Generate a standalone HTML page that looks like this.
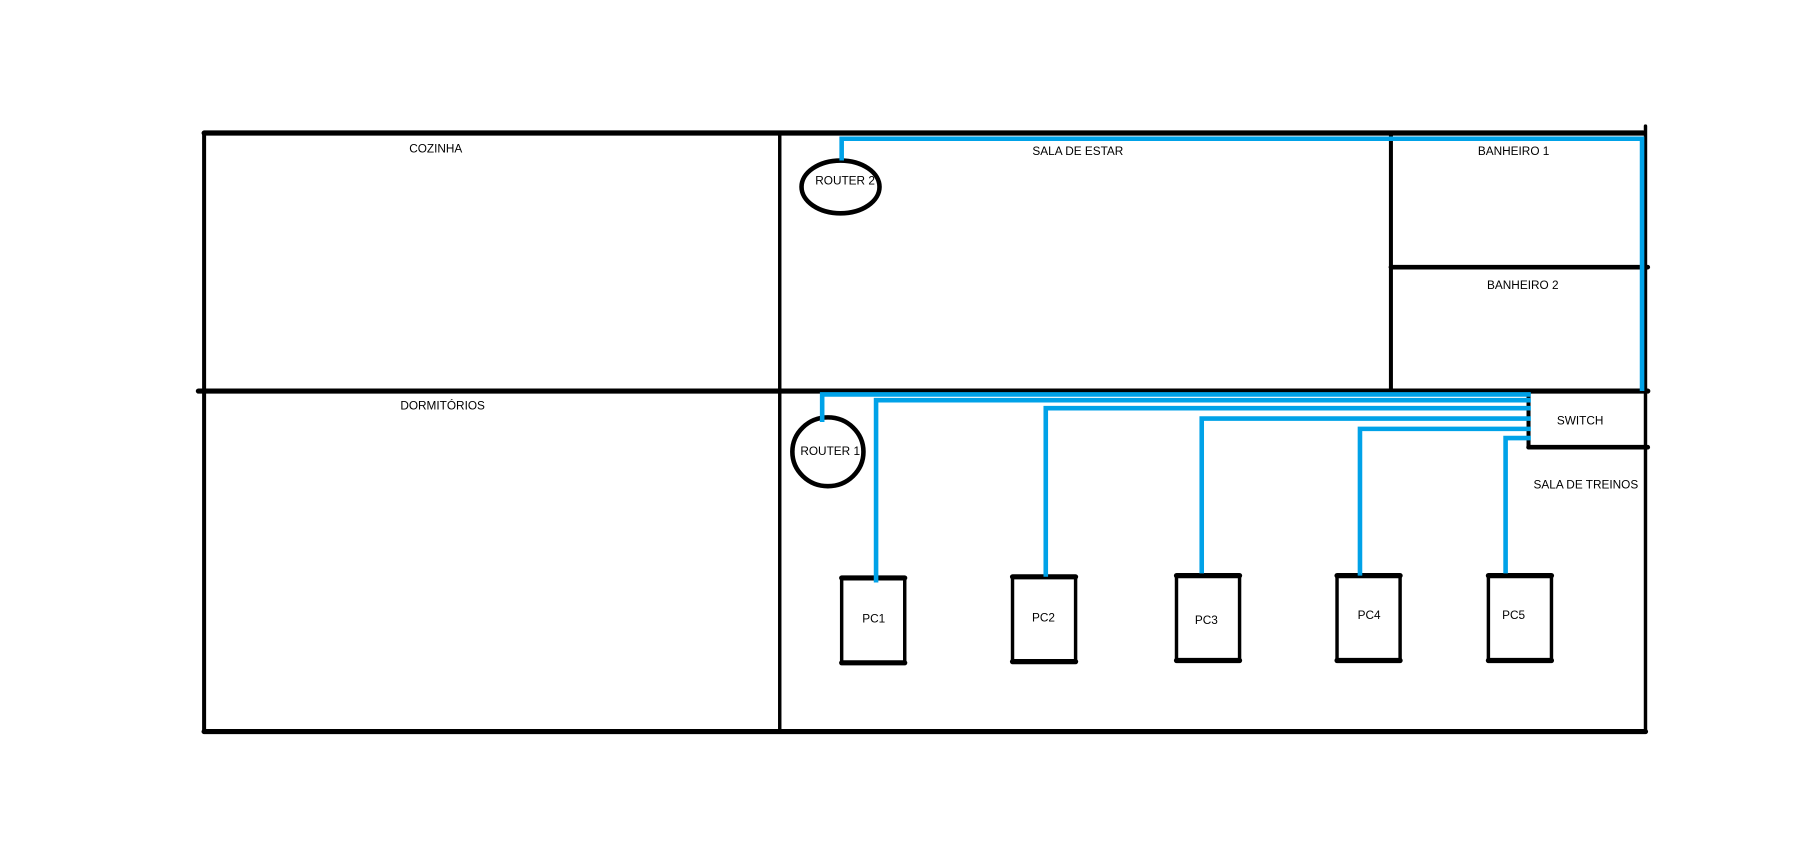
<!DOCTYPE html>
<html><head><meta charset="utf-8"><style>html,body{margin:0;padding:0;background:#fff;width:1798px;height:856px;overflow:hidden}</style></head>
<body>
<svg width="1798" height="856" viewBox="0 0 1568 746.5" xmlns="http://www.w3.org/2000/svg" font-family="'Liberation Sans', sans-serif" font-size="10.3" fill="#000">
<g stroke="#000" stroke-width="4" stroke-linecap="round" fill="none">
<line x1="178" y1="116" x2="1433" y2="116" stroke-width="4.5"/>
<line x1="178" y1="116" x2="178" y2="638" stroke-width="3.5"/>
<line x1="178" y1="638" x2="1435" y2="638" stroke-width="4.5"/>
<line x1="1435" y1="110" x2="1435" y2="638" stroke-width="3"/>
<line x1="680" y1="116" x2="680" y2="638" stroke-width="3"/>
<line x1="173" y1="341" x2="1437" y2="341" stroke-width="4.5"/>
<line x1="1213" y1="116" x2="1213" y2="341" stroke-width="3.5"/>
<line x1="1213" y1="233" x2="1437" y2="233" stroke-width="4"/>
<line x1="1333" y1="341" x2="1333" y2="390" stroke-width="3.5"/>
<line x1="1333" y1="390" x2="1437" y2="390" stroke-width="4"/>
<ellipse cx="733" cy="163" rx="34" ry="23" stroke-width="4"/>
<ellipse cx="722" cy="394" rx="31" ry="30" stroke-width="4"/>
<rect x="734" y="504" width="55" height="74" stroke-width="3"/>
<rect x="883" y="503" width="55" height="74" stroke-width="3"/>
<rect x="1026" y="502" width="55" height="74" stroke-width="3"/>
<rect x="1166" y="502" width="55" height="74" stroke-width="3"/>
<rect x="1298" y="502" width="55" height="74" stroke-width="3"/>
<g stroke-width="4.5">
<line x1="734" y1="504" x2="789" y2="504"/><line x1="734" y1="578" x2="789" y2="578"/>
<line x1="883" y1="503" x2="938" y2="503"/><line x1="883" y1="577" x2="938" y2="577"/>
<line x1="1026" y1="502" x2="1081" y2="502"/><line x1="1026" y1="576" x2="1081" y2="576"/>
<line x1="1166" y1="502" x2="1221" y2="502"/><line x1="1166" y1="576" x2="1221" y2="576"/>
<line x1="1298" y1="502" x2="1353" y2="502"/><line x1="1298" y1="576" x2="1353" y2="576"/>
</g>
</g>
<g stroke="#00a2e8" stroke-width="4" fill="none">
<polyline points="734,140 734,121 1432,121 1432,341"/>
<polyline points="717,368 717,344 1335,344"/>
<polyline points="764,508 764,349 1335,349"/>
<polyline points="912,503 912,356 1335,356"/>
<polyline points="1048,500 1048,365 1335,365"/>
<polyline points="1186,502 1186,374 1335,374"/>
<polyline points="1313,500 1313,382 1335,382"/>
</g>
<g text-anchor="middle">
<text x="380" y="133">COZINHA</text>
<text x="940" y="135">SALA DE ESTAR</text>
<text x="1320" y="135">BANHEIRO 1</text>
<text x="1328" y="252">BANHEIRO 2</text>
<text x="386" y="357">DORMITÓRIOS</text>
<text x="737" y="161">ROUTER 2</text>
<text x="724" y="397">ROUTER 1</text>
<text x="1378" y="370">SWITCH</text>
<text x="1383" y="426">SALA DE TREINOS</text>
<text x="762" y="543">PC1</text>
<text x="910" y="542">PC2</text>
<text x="1052" y="544">PC3</text>
<text x="1194" y="540">PC4</text>
<text x="1320" y="540">PC5</text>
</g>
</svg>
</body></html>
